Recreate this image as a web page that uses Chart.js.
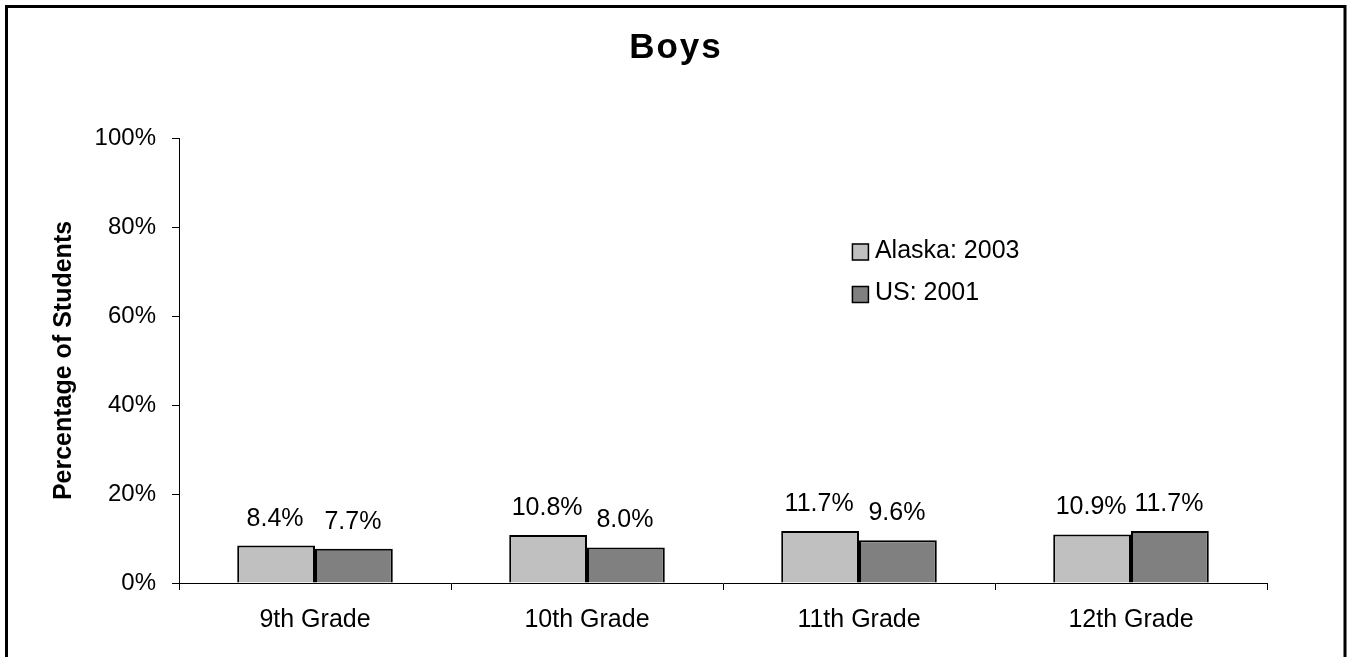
<!DOCTYPE html>
<html>
<head>
<meta charset="utf-8">
<script src="https://cdn.jsdelivr.net/npm/chart.js@4.4.1/dist/chart.umd.min.js"></script>
<style>
  html, body { margin: 0; padding: 0; background: #fff; }
  canvas { display: block; }
</style>
</head>
<body>
<canvas id="c" width="1350" height="657"></canvas>
<script>
const categories = ["9th Grade", "10th Grade", "11th Grade", "12th Grade"];
const alaska2003 = [8.4, 10.8, 11.7, 10.9];
const us2001 = [7.7, 8.0, 9.6, 11.7];
const seriesLabels = ["Alaska: 2003", "US: 2001"];
const yTicks = [0, 20, 40, 60, 80, 100];
const chartTitle = "Boys";

const FONT = "'Liberation Sans', Arial, sans-serif";

const framePlugin = {
  id: 'frame',
  afterDraw(chart) {
    const ctx = chart.ctx;
    ctx.save();
    ctx.strokeStyle = '#000';
    ctx.lineWidth = 3;
    ctx.beginPath();
    ctx.moveTo(6.5, 670);
    ctx.lineTo(6.5, 6.5);
    ctx.lineTo(1345, 6.5);
    ctx.lineTo(1345, 670);
    ctx.stroke();
    ctx.restore();
  }
};

const titlePlugin = {
  id: 'centerTitle',
  afterDraw(chart) {
    const ctx = chart.ctx;
    ctx.save();
    ctx.font = "bold 35px " + FONT;
    if ('letterSpacing' in ctx) ctx.letterSpacing = '2px';
    ctx.fillStyle = '#000';
    ctx.textAlign = 'center';
    ctx.textBaseline = 'alphabetic';
    ctx.fillText(chartTitle, chart.width / 2 + 1, 57.5);
    ctx.restore();
  }
};

const dataLabelPlugin = {
  id: 'dataLabels',
  afterDatasetsDraw(chart) {
    const ctx = chart.ctx;
    ctx.save();
    ctx.font = "25px " + FONT;
    ctx.fillStyle = '#000';
    ctx.textAlign = 'center';
    ctx.textBaseline = 'alphabetic';
    chart.data.datasets.forEach((ds, di) => {
      const meta = chart.getDatasetMeta(di);
      meta.data.forEach((bar, i) => {
        ctx.fillText(ds.data[i].toFixed(1) + '%', bar.x - 1, bar.y - 20);
      });
    });
    ctx.restore();
  }
};

const legendPlugin = {
  id: 'customLegend',
  afterDraw(chart) {
    const ctx = chart.ctx;
    const ca = chart.chartArea;
    const x0 = ca.left + (ca.right - ca.left) * 0.6185;
    const rows = [252, 294.5];
    ctx.save();
    ctx.font = "25px " + FONT;
    ctx.textBaseline = 'middle';
    ctx.textAlign = 'left';
    chart.data.datasets.forEach((ds, di) => {
      const yc = rows[di];
      ctx.fillStyle = ds.backgroundColor;
      ctx.fillRect(x0, yc - 8.5, 17, 17);
      ctx.strokeStyle = '#000';
      ctx.lineWidth = 1.5;
      ctx.strokeRect(x0 + 0.5, yc - 8, 16, 16);
      ctx.fillStyle = '#000';
      ctx.fillText(ds.label, x0 + 23, yc - 1);
    });
    ctx.restore();
  }
};

new Chart(document.getElementById('c'), {
  type: 'bar',
  data: {
    labels: categories,
    datasets: [
      {
        label: seriesLabels[0],
        data: alaska2003,
        backgroundColor: '#C0C0C0',
        borderColor: '#000',
        borderWidth: 2,
        categoryPercentage: 0.572,
        barPercentage: 1.0
      },
      {
        label: seriesLabels[1],
        data: us2001,
        backgroundColor: '#808080',
        borderColor: '#000',
        borderWidth: 2,
        categoryPercentage: 0.572,
        barPercentage: 1.0
      }
    ]
  },
  options: {
    responsive: false,
    animation: false,
    layout: { padding: { left: 10, right: 83, top: 138, bottom: 0 } },
    plugins: {
      legend: { display: false },
      tooltip: { enabled: false },
      title: { display: false }
    },
    scales: {
      x: {
        offset: true,
        grid: {
          display: true,
          offset: true,
          drawOnChartArea: false,
          drawTicks: true,
          tickLength: 7,
          color: '#000',
          lineWidth: 1
        },
        border: { display: true, color: '#000', width: 1 },
        ticks: {
          color: '#000',
          padding: 15,
          font: { family: FONT, size: 25 },
          maxRotation: 0,
          autoSkip: false
        },
        afterFit(scale) { scale.height = 74; }
      },
      y: {
        min: 0,
        max: 100,
        afterBuildTicks(scale) { scale.ticks = yTicks.map(v => ({ value: v })); },
        grid: {
          display: true,
          drawOnChartArea: false,
          drawTicks: true,
          tickLength: 7,
          color: '#000',
          lineWidth: 1
        },
        border: { display: true, color: '#000', width: 1 },
        ticks: {
          color: '#000',
          padding: 16,
          font: { family: FONT, size: 24 },
          callback: (v) => v + '%'
        },
        title: {
          display: true,
          text: 'Percentage of Students',
          color: '#000',
          font: { family: FONT, size: 25, weight: 'bold', lineHeight: 1.2 },
          padding: { top: 39, bottom: 0 }
        },
        afterFit(scale) { scale.width = 169; }
      }
    }
  },
  plugins: [framePlugin, titlePlugin, dataLabelPlugin, legendPlugin]
});
</script>
</body>
</html>
